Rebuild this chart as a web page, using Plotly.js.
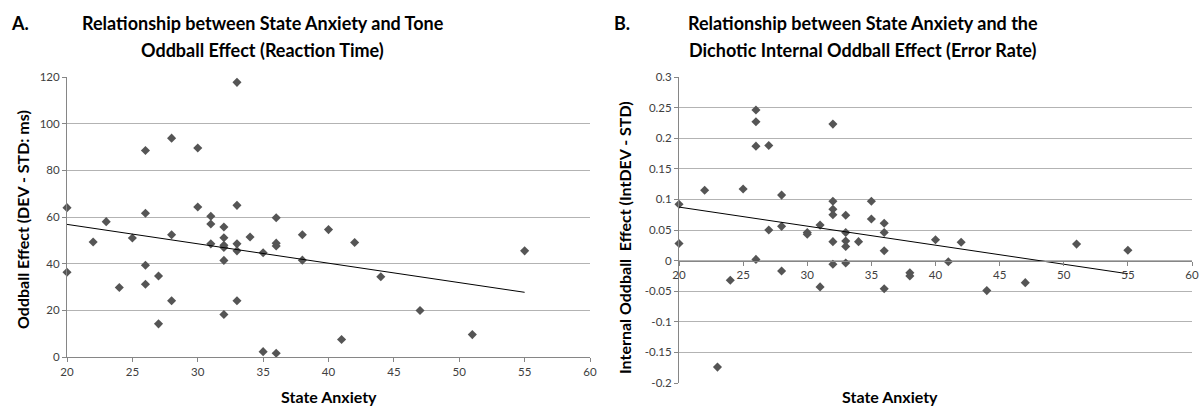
<!DOCTYPE html>
<html><head><meta charset="utf-8">
<script src="https://cdn.plot.ly/plotly-3.0.1.min.js"></script>
<style>body{margin:0;background:#fff}#chart{width:1203px;height:406px}</style>
</head><body><div id="chart"></div>
<script>
// Panel A: State Anxiety vs Tone Oddball Effect (RT, ms)
const anxietyA = [20,20,22,23,24,25,26,26,26,26,27,27,28,28,28,30,30,31,31,31,32,32,32,32,32,32,33,33,33,33,33,34,35,35,36,36,36,36,38,38,40,41,42,44,47,51,55];
const rtEffect = [64,36.3,49.3,58,29.8,51,88.5,61.6,39.3,31.2,34.7,14.2,93.8,52.4,24.1,89.6,64.3,60.3,57,48.5,55.7,51.1,47.9,46.9,41.4,18.2,117.7,65,48.5,45.5,24.1,51.4,44.7,2.3,59.7,48.8,47.6,1.6,52.4,41.5,54.6,7.5,49.1,34.4,19.9,9.6,45.5];
// Panel B: State Anxiety vs Dichotic Internal Oddball Effect (error rate)
const anxietyB = [20,20,22,23,24,25,26,26,26,26,27,27,28,28,28,30,30,31,31,32,32,32,32,32,32,33,33,33,33,33,34,35,35,36,36,36,36,38,38,40,41,42,44,47,51,55];
const errEffect = [0.092,0.028,0.115,-0.174,-0.032,0.117,0.246,0.227,0.187,0.002,0.188,0.050,0.107,0.056,-0.017,0.046,0.043,0.058,-0.043,0.223,0.097,0.084,0.075,0.031,-0.006,0.074,0.046,0.032,0.023,-0.004,0.031,0.097,0.068,0.061,0.046,0.016,-0.046,-0.020,-0.025,0.034,-0.002,0.030,-0.049,-0.036,0.027,0.017];
// Tick labels
const xTicks = [20,25,30,35,40,45,50,55,60];
const yTicksA = [0,20,40,60,80,100,120];
const yTicksB = [-0.2,-0.15,-0.1,-0.05,0,0.05,0.1,0.15,0.2,0.25,0.3];
const yTickTextB = ["-0.2","-0.15","-0.1","-0.05","0","0.05","0.1","0.15","0.2","0.25","0.3"];

function fit(xs, ys) {
  const n = xs.length;
  const mx = xs.reduce((a,b)=>a+b,0)/n, my = ys.reduce((a,b)=>a+b,0)/n;
  let sxy=0, sxx=0;
  for (let i=0;i<n;i++){ sxy+=(xs[i]-mx)*(ys[i]-my); sxx+=(xs[i]-mx)**2; }
  const b = sxy/sxx, a = my - b*mx;
  const x0 = Math.min(...xs), x1 = Math.max(...xs);
  return {x:[x0,x1], y:[a+b*x0, a+b*x1]};
}
const tA = fit(anxietyA, rtEffect), tB = fit(anxietyB, errEffect);

const W=1203, H=406;
const mk = {symbol:'diamond', size:7, color:'#555555'};
const data = [
  {x:anxietyA, y:rtEffect, type:'scatter', mode:'markers', marker:mk, xaxis:'x', yaxis:'y', cliponaxis:false},
  {x:tA.x, y:tA.y, type:'scatter', mode:'lines', line:{color:'#000', width:1}, xaxis:'x', yaxis:'y', cliponaxis:false},
  {x:anxietyB, y:errEffect, type:'scatter', mode:'markers', marker:mk, xaxis:'x2', yaxis:'y2', cliponaxis:false},
  {x:tB.x, y:tB.y, type:'scatter', mode:'lines', line:{color:'#000', width:1}, xaxis:'x2', yaxis:'y2', cliponaxis:false}
];

const tickFont = {family:'Lato, sans-serif', size:11.5, color:'#404040'};
const titleFont = {family:'Lato, sans-serif', size:18, color:'#000'};
const axFont = {family:'Lato, sans-serif', size:16, color:'#000'};
const lineC = '#868686', gridC = '#b3b3b3';

const domYA = [(H-357)/H, (H-77)/H];
const domYB = [(H-383)/H, (H-77)/H];
const rangeB = [-0.2, 0.3];
const posX2 = domYB[0] + (0-rangeB[0])/(rangeB[1]-rangeB[0])*(domYB[1]-domYB[0]);

const baseX = {range:[20,60], tickvals:xTicks, showline:true, linecolor:lineC, linewidth:1,
  ticks:'outside', ticklen:4, tickcolor:lineC, showgrid:false, zeroline:false, tickfont:tickFont, fixedrange:true};
const baseY = {showline:true, linecolor:lineC, linewidth:1, ticks:'outside', ticklen:4, tickcolor:lineC,
  showgrid:true, gridcolor:gridC, gridwidth:1, zeroline:false, tickfont:tickFont, fixedrange:true};

function ann(text, px, py, opts) {
  return Object.assign({text, xref:'paper', yref:'paper', x:px/W, y:1-py/H, showarrow:false,
    xanchor:'center', yanchor:'middle', font:titleFont}, opts||{});
}

const layout = {
  width:W, height:H, margin:{l:0,r:0,t:0,b:0}, paper_bgcolor:'#fff', plot_bgcolor:'#fff',
  showlegend:false,
  xaxis: Object.assign({}, baseX, {domain:[67/W, 590/W], anchor:'y'}),
  yaxis: Object.assign({}, baseY, {domain:domYA, range:[0,120], tickvals:yTicksA, anchor:'x'}),
  xaxis2: Object.assign({}, baseX, {domain:[679/W, 1192/W], anchor:'free', position:posX2}),
  yaxis2: Object.assign({}, baseY, {domain:domYB, range:rangeB, tickvals:yTicksB, ticktext:yTickTextB, anchor:'x2'}),
  annotations: [
    ann('<b>A.</b>', 9, 23, {xanchor:'left'}),
    ann('<b>Relationship between State Anxiety and Tone</b>', 262.5, 23),
    ann('<b>Oddball Effect (Reaction Time)</b>', 262.5, 50),
    ann('<b>B.</b>', 612, 23, {xanchor:'left'}),
    ann('<b>Relationship between State Anxiety and the</b>', 863, 23),
    ann('<b>Dichotic Internal Oddball Effect (Error Rate)</b>', 863, 50),
    ann('<b>State Anxiety</b>', 328.7, 396, {font:axFont}),
    ann('<b>State Anxiety</b>', 890, 396, {font:axFont}),
    ann('<b>Oddball Effect (DEV - STD: ms)</b>', 22, 220, {font:axFont, textangle:-90}),
    ann('<b>Internal Oddball &nbsp;Effect (IntDEV - STD)</b>', 625, 238, {font:axFont, textangle:-90})
  ]
};
Plotly.newPlot('chart', data, layout, {displayModeBar:false, staticPlot:true});
</script>
</body></html>
